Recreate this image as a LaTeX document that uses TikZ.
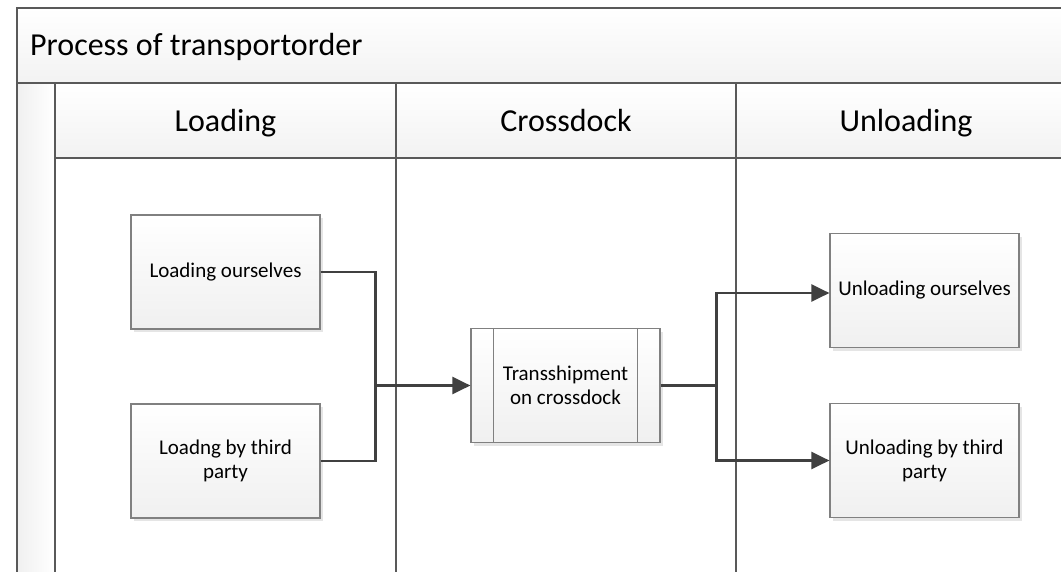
\documentclass[tikz,border=0pt]{standalone}
\usepackage{fontspec}
\setmainfont{Carlito}
\usepackage{xcolor}
\definecolor{lineas}{RGB}{89, 89, 89}
\definecolor{bordes}{RGB}{128, 128, 128}
\definecolor{flecha}{RGB}{64, 64, 64}
\usepackage{tikz}
\usetikzlibrary{positioning, arrows.meta, calc, shadows}

\tikzset{
  caja/.style={draw=bordes, line width=1.2pt, top color=white, bottom color=gray!12,
    minimum width=189pt, minimum height=114pt, align=center,
    font=\fontsize{21}{24}\selectfont,
    drop shadow={shadow xshift=3pt, shadow yshift=-3pt, fill=gray!20, opacity=1}},
  carril/.style={draw=lineas, line width=1.6pt},
  linea/.style={draw=flecha, line width=2.5pt},
  flujo/.style={linea, -{Triangle[length=18pt, width=17pt]}},
  titulo/.style={font=\fontsize{32}{38}\selectfont, inner sep=0pt}
}

\begin{document}
\begin{tikzpicture}[x=1pt, y=-1pt]
            \useasboundingbox (0,0) rectangle (1061,571);
            \clip (0,0) rectangle (1061,571);

            % Pool y carriles
            \fill[top color=white, bottom color=gray!10] (17,8) rectangle (1070,83);
            \fill[top color=white, bottom color=gray!10] (55,83) rectangle (1070,158);
            \fill[left color=gray!12, right color=white] (17,83) rectangle (55,580);
            \draw[carril] (1070,8) -- (17,8) -- (17,580);
            \draw[carril] (17,83) -- (1070,83);
            \draw[carril] (55,158) -- (1070,158);
            \draw[carril] (55,83) -- (55,580);
            \draw[carril] (396,83) -- (396,580);
            \draw[carril] (736,83) -- (736,580);

            \node[titulo, anchor=base west] (pool) at (30,55) {Process of transportorder};
            \node[titulo, anchor=base] (hload) at (225.5,131) {Loading};
            \node[titulo, anchor=base] (hcross) at (566,131) {Crossdock};
            \node[titulo, anchor=base] (hunload) at (906,131) {Unloading};

            % Actividades
            \node[caja] (lo) at (225.5,272) {Loading ourselves};
            \node[caja] (lt) at (225.5,461) {Loadng by third\\party};
            \node[caja] (tr) at (565.5,385.5) {Transshipment\\on crossdock};
            \node[caja] (uo) at (924.5,290.5) {Unloading ourselves};
            \node[caja] (ut) at (924.5,460.5) {Unloading by third\\party};
            \draw[bordes, line width=1.2pt] ($(tr.north west)+(23,0)$) -- ($(tr.south west)+(23,0)$);
            \draw[bordes, line width=1.2pt] ($(tr.north east)+(-23,0)$) -- ($(tr.south east)+(-23,0)$);

            % Flujos
            \coordinate (j1) at ($(tr.west)+(-95,0)$);
            \coordinate (j2) at ($(tr.east)+(56,0)$);
            \draw[linea] (lo.east) -| (j1);
            \draw[linea] (lt.east) -| (j1);
            \draw[flujo] (j1) -- (tr.west);
            \draw[linea] (tr.east) -- (j2);
            \draw[flujo] (j2) |- ($(uo.west)+(0,2.5)$);
            \draw[flujo] (j2) |- (ut.west);
        \end{tikzpicture}
\end{document}
